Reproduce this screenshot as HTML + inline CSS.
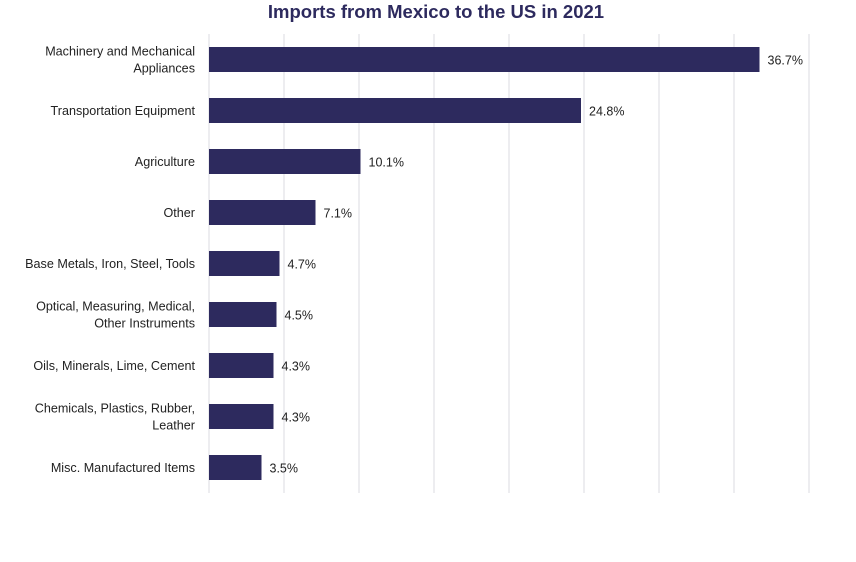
<!DOCTYPE html>
<html><head><meta charset="utf-8"><style>
body{margin:0;background:#fff;}
svg{display:block;font-family:"Liberation Sans",sans-serif;}
</style></head><body>
<svg id="chart" width="856" height="562">
<text x="436" y="18" text-anchor="middle" font-size="18.5" font-weight="bold" fill="#2d2a5e">Imports from Mexico to the US in 2021</text>
<g id="grid"></g><g id="bars"></g>
</svg>
<script>
const categories=[["Machinery and Mechanical","Appliances"],["Transportation Equipment"],["Agriculture"],["Other"],["Base Metals, Iron, Steel, Tools"],["Optical, Measuring, Medical,","Other Instruments"],["Oils, Minerals, Lime, Cement"],["Chemicals, Plastics, Rubber,","Leather"],["Misc. Manufactured Items"]];
const values=[36.7,24.8,10.1,7.1,4.7,4.5,4.3,4.3,3.5];
const valueLabels=["36.7%","24.8%","10.1%","7.1%","4.7%","4.5%","4.3%","4.3%","3.5%"];
const ticks=[0,5,10,15,20,25,30,35,40];
const NS="http://www.w3.org/2000/svg";
const x0=209,x1=809,xmax=40,yTop=34,band=51;
const xs=v=>x0+(x1-x0)*v/xmax;
const yc=i=>yTop+band*i+band/2;
const grid=document.getElementById('grid'),bars=document.getElementById('bars');
function mk(t,a,p){const e=document.createElementNS(NS,t);for(const k in a)e.setAttribute(k,a[k]);p.appendChild(e);return e;}
ticks.forEach(t=>{const l=mk('line',{x1:xs(t),x2:xs(t),y1:yTop,y2:yTop+band*categories.length,stroke:'#e3e3e8','stroke-width':1.3},grid);

});
values.forEach((v,i)=>{
const r=mk('rect',{x:x0,y:yc(i)-12.5,width:xs(v)-x0,height:25,fill:'#2d2a5e'},bars);


const t=mk('text',{x:xs(v)+8,y:yc(i)+5,'font-size':12.5,fill:'#222'},bars);t.textContent=valueLabels[i];


const lines=categories[i];
lines.forEach((s,j)=>{const c=mk('text',{x:195,y:yc(i)+4.5+(j-(lines.length-1)/2)*17,'font-size':12.6,'text-anchor':'end',fill:'#222'},bars);c.textContent=s;

});
});
</script>
</body></html>
